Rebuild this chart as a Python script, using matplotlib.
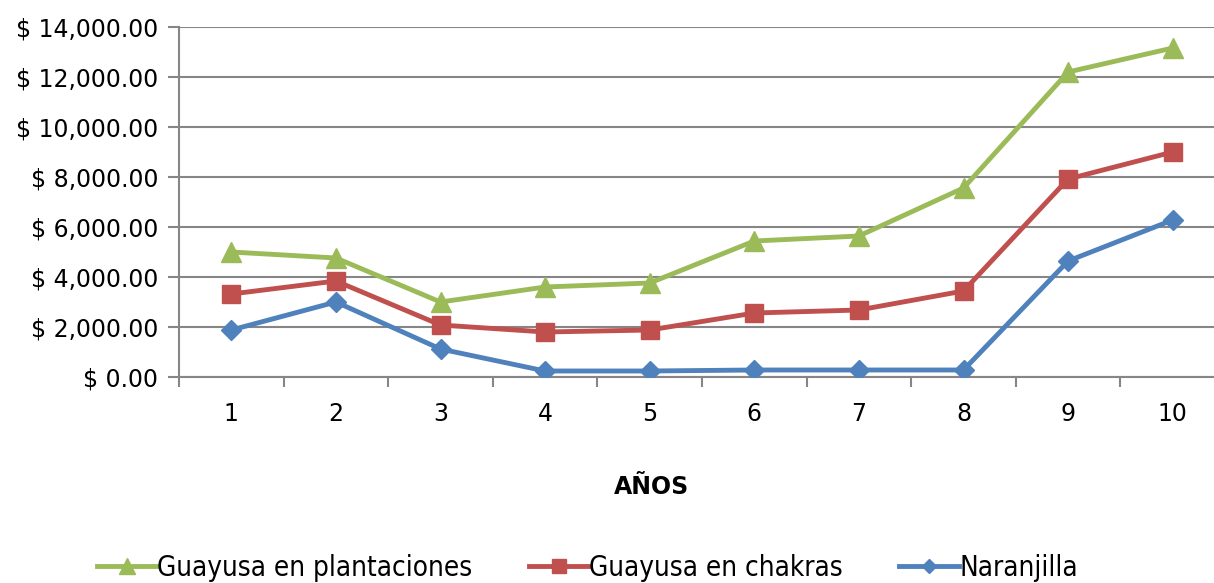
import numpy as np
import matplotlib
matplotlib.use("Agg")
import matplotlib.pyplot as plt
from matplotlib.ticker import FuncFormatter, MultipleLocator, FixedLocator

# data
anos = np.arange(1, 11)
plantaciones = [5000, 4760, 3000, 3600, 3760, 5440, 5640, 7560, 12200, 13160]
chakras = [3320, 3840, 2080, 1800, 1880, 2560, 2680, 3440, 7920, 9000]
naranjilla = [1880, 3000, 1120, 240, 240, 280, 280, 280, 4640, 6280]

plt.rcParams['font.family'] = ['DejaVu Sans']

fig = plt.figure(figsize=(12.14, 5.83), dpi=100)
ax = fig.add_axes([179/1214, 206/583, 1046/1214, 350/583])

grid_c = '#868686'
ax.plot(anos, plantaciones, color='#9BBB59', lw=3.5, marker='^', ms=15,
        label='Guayusa en plantaciones', zorder=3)
ax.plot(anos, chakras, color='#C0504D', lw=3.5, marker='s', ms=13,
        label='Guayusa en chakras', zorder=3)
ax.plot(anos, naranjilla, color='#4F81BD', lw=3.5, marker='D', ms=10,
        label='Naranjilla', zorder=3)

ax.set_xlim(0.5, 10.5)
ax.set_ylim(0, 14000)
ax.yaxis.set_major_locator(MultipleLocator(2000))
ax.yaxis.set_major_formatter(FuncFormatter(lambda v, p: f'$ {v:,.2f}'))
ax.set_xticks(anos)
ax.xaxis.set_minor_locator(FixedLocator(np.arange(0.5, 11, 1)))
ax.tick_params(axis='x', which='major', length=0, labelsize=17, pad=18)
ax.tick_params(axis='x', which='minor', length=7, width=1.5, color=grid_c)
ax.tick_params(axis='y', length=8, width=1.5, color=grid_c, labelsize=17, pad=7)

ax.grid(axis='y', color=grid_c, lw=1.5)
ax.set_axisbelow(True)
for s in ['top', 'right']:
    ax.spines[s].set_visible(False)
ax.spines['left'].set_color(grid_c)
ax.spines['left'].set_linewidth(1.5)
ax.spines['bottom'].set_color(grid_c)
ax.spines['bottom'].set_linewidth(1.5)

fig.text(652/1214, 1 - 487/583, 'AÑOS', fontsize=17, fontweight='bold',
         ha='center', va='center')

fig.legend(loc='center left', bbox_to_anchor=(97/1214, 1 - 568/583), ncol=3,
           frameon=False, handlelength=2.15, handletextpad=0.0, columnspacing=2.05,
           borderpad=0, borderaxespad=0, markerscale=0.75,
           prop=dict(family='DejaVu Sans', stretch='condensed', size=20))

fig.savefig('out.png', dpi=100)
